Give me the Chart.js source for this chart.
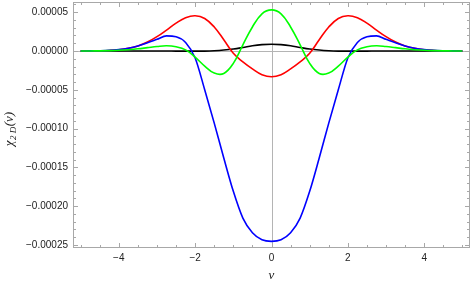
<!DOCTYPE html>
<html>
<head>
<meta charset="utf-8">
<script src="https://cdn.jsdelivr.net/npm/chart.js@4/dist/chart.umd.min.js"></script>
<style>
  html, body { margin: 0; padding: 0; background: #fff; }
  #wrap { width: 472px; height: 284px; }
</style>
</head>
<body>
<div id="wrap"><canvas id="chi" width="472" height="284"></canvas></div>
<script>
// nu values (x)
var nu = [-5, -4.75, -4.5, -4.25, -4, -3.75, -3.5, -3.25, -3, -2.75, -2.5, -2.25, -2, -1.75, -1.5, -1.25, -1, -0.75, -0.5, -0.25,
  0, 0.25, 0.5, 0.75, 1, 1.25, 1.5, 1.75, 2, 2.25, 2.5, 2.75, 3, 3.25, 3.5, 3.75, 4, 4.25, 4.5, 4.75, 5];

// series
var redVals = [0.03e-6, 0.1e-6, 0.28e-6, 0.7e-6, 1.6e-6, 3.4e-6, 6.5e-6, 11.5e-6, 18.5e-6, 27e-6, 36e-6, 43e-6, 45.5e-6, 42e-6, 31e-6, 14.5e-6, -3e-6, -14e-6, -23e-6, -30.5e-6,
  -33.2e-6, -30.5e-6, -23e-6, -14e-6, -3e-6, 14.5e-6, 31e-6, 42e-6, 45.5e-6, 43e-6, 36e-6, 27e-6, 18.5e-6, 11.5e-6, 6.5e-6, 3.4e-6, 1.6e-6, 0.7e-6, 0.28e-6, 0.1e-6, 0.03e-6];
var blueVals = [0.04e-6, 0.12e-6, 0.35e-6, 0.8e-6, 1.8e-6, 3.6e-6, 6.5e-6, 10.5e-6, 15e-6, 19.5e-6, 18.5e-6, 11e-6, -9e-6, -50e-6, -93e-6, -138e-6, -181e-6, -215.5e-6, -234.5e-6, -243.5e-6,
  -245.5e-6, -243.5e-6, -234.5e-6, -215.5e-6, -181e-6, -138e-6, -93e-6, -50e-6, -9e-6, 11e-6, 18.5e-6, 19.5e-6, 15e-6, 10.5e-6, 6.5e-6, 3.6e-6, 1.8e-6, 0.8e-6, 0.35e-6, 0.12e-6, 0.04e-6];
var greenVals = [0.03e-6, 0.08e-6, 0.2e-6, 0.45e-6, 0.9e-6, 1.7e-6, 2.8e-6, 4.3e-6, 5.8e-6, 6.8e-6, 5.5e-6, 1.5e-6, -8e-6, -19.5e-6, -28.5e-6, -29e-6, -16e-6, 8e-6, 31e-6, 48e-6,
  53e-6, 48e-6, 31e-6, 8e-6, -16e-6, -29e-6, -28.5e-6, -19.5e-6, -8e-6, 1.5e-6, 5.5e-6, 6.8e-6, 5.8e-6, 4.3e-6, 2.8e-6, 1.7e-6, 0.9e-6, 0.45e-6, 0.2e-6, 0.08e-6, 0.03e-6];
var blackVals = [0, 0, 0, 0, 0, 0, 0, 0, 0, -0.05e-6, -0.1e-6, -0.15e-6, -0.2e-6, -0.15e-6, 0.3e-6, 1.2e-6, 2.6e-6, 4.6e-6, 6.8e-6, 8.2e-6,
  8.7e-6, 8.2e-6, 6.8e-6, 4.6e-6, 2.6e-6, 1.2e-6, 0.3e-6, -0.15e-6, -0.2e-6, -0.15e-6, -0.1e-6, -0.05e-6, 0, 0, 0, 0, 0, 0, 0, 0, 0];

// ticks
var xTicks = [-4, -2, 0, 2, 4];
var yTicks = [0.00005, 0, -0.00005, -0.0001, -0.00015, -0.0002, -0.00025];

var FRAME = '#a8a8a8';

function pts(vals) {
  return nu.map(function(x, i) { return {x: x, y: vals[i]}; });
}

function fmtY(v) {
  var s = Math.abs(v).toFixed(5);
  return (v < 0 ? '\u2212' : '') + s;
}

// frame, zero axes and inward ticks, Mathematica style
var framePlugin = {
  id: 'frame',
  beforeDatasetsDraw: function(chart) {
    var ctx = chart.ctx, a = chart.chartArea;
    var xs = chart.scales.x, ys = chart.scales.y;
    ctx.save();
    ctx.strokeStyle = '#b4b4b4';
    ctx.lineWidth = 1;
    var y0 = Math.round(ys.getPixelForValue(0)) + 0.5;
    var x0 = Math.round(xs.getPixelForValue(0)) + 0.5;
    ctx.beginPath();
    ctx.moveTo(a.left, y0); ctx.lineTo(a.right, y0);
    ctx.moveTo(x0, a.top); ctx.lineTo(x0, a.bottom);
    ctx.stroke();
    ctx.restore();
  },
  afterDraw: function(chart) {
    var ctx = chart.ctx, a = chart.chartArea;
    var xs = chart.scales.x, ys = chart.scales.y;
    ctx.save();
    ctx.strokeStyle = FRAME;
    ctx.lineWidth = 1;
    ctx.strokeRect(a.left + 0.5, a.top + 0.5, a.right - a.left - 1, a.bottom - a.top - 1);
    ctx.beginPath();
    // x ticks every 0.5, long at labelled ones
    for (var k = -10; k <= 10; k++) {
      var v = k / 2;
      var px = Math.round(xs.getPixelForValue(v)) + 0.5;
      var len = (k % 4 === 0) ? 5 : 3;
      ctx.moveTo(px, a.bottom); ctx.lineTo(px, a.bottom - len);
      ctx.moveTo(px, a.top); ctx.lineTo(px, a.top + len);
    }
    // y ticks every 0.00001
    for (var j = -25; j <= 6; j++) {
      var vy = j * 1e-5;
      var py = Math.round(ys.getPixelForValue(vy)) + 0.5;
      if (py < a.top || py > a.bottom) continue;
      var l2 = (j % 5 === 0) ? 5 : 3;
      ctx.moveTo(a.left, py); ctx.lineTo(a.left + l2, py);
      ctx.moveTo(a.right, py); ctx.lineTo(a.right - l2, py);
    }
    ctx.stroke();

    // axis titles
    ctx.fillStyle = '#222';
    ctx.textBaseline = 'alphabetic';
    ctx.textAlign = 'center';
    ctx.font = 'italic 13px "Liberation Serif"';
    ctx.fillText('\u03bd', (a.left + a.right) / 2, 279);

    // y title: chi with subscript 2 D, rotated
    ctx.translate(13, (a.top + a.bottom) / 2 + 4);
    ctx.rotate(-Math.PI / 2);
    ctx.textAlign = 'left';
    var big = 'italic 13px "Liberation Serif"', small = 'italic 9px "Liberation Serif"';
    ctx.font = big; var w1 = ctx.measureText('\u03c7').width;
    ctx.font = small; var w2 = ctx.measureText('2 D').width;
    ctx.font = big; var w3 = ctx.measureText('(\u03bd)').width;
    var sx = -(w1 + w2 + w3 + 1) / 2;
    ctx.font = big; ctx.fillText('\u03c7', sx, 0);
    ctx.font = small; ctx.fillText('2 D', sx + w1 + 0.5, 3);
    ctx.font = big; ctx.fillText('(\u03bd)', sx + w1 + w2 + 1, 0);
    ctx.restore();
  }
};

function line(label, vals, color, order, mode) {
  return {
    label: label,
    data: pts(vals),
    borderColor: color,
    backgroundColor: color,
    borderWidth: 1.6,
    pointRadius: 0,
    tension: 0.4,
    cubicInterpolationMode: mode,
    fill: false,
    order: order
  };
}

new Chart(document.getElementById('chi'), {
  type: 'line',
  data: {
    datasets: [
      line('black', blackVals, '#000000', 4, 'default'),
      line('red', redVals, '#ff0000', 3, 'default'),
      line('blue', blueVals, '#0000ff', 2, 'monotone'),
      line('green', greenVals, '#00ff00', 1, 'default')
    ]
  },
  options: {
    responsive: false,
    animation: false,
    layout: { padding: { left: 0, right: 2, top: 2, bottom: 0 } },
    plugins: { legend: { display: false }, tooltip: { enabled: false }, title: { display: false } },
    scales: {
      x: {
        type: 'linear',
        min: -5.2,
        max: 5.2,
        grid: { display: false, drawTicks: false },
        border: { display: false },
        afterBuildTicks: function(scale) {
          scale.ticks = xTicks.map(function(v) { return {value: v}; });
        },
        afterFit: function(scale) {
          scale.height = 36;
          scale.paddingLeft = 0; scale.paddingRight = 0;
        },
        ticks: {
          autoSkip: false,
          maxRotation: 0,
          padding: 4,
          color: '#222',
          font: { family: '"Liberation Sans"', size: 10 },
          callback: function(v) { return v < 0 ? '\u2212' + Math.abs(v) : String(v); }
        }
      },
      y: {
        type: 'linear',
        min: -2.541e-4,
        max: 6.32e-5,
        grid: { display: false, drawTicks: false },
        border: { display: false },
        afterBuildTicks: function(scale) {
          scale.ticks = yTicks.map(function(v) { return {value: v}; });
        },
        afterFit: function(scale) {
          scale.width = 73;
          scale.paddingTop = 0; scale.paddingBottom = 0;
        },
        ticks: {
          autoSkip: false,
          padding: 5,
          color: '#222',
          font: { family: '"Liberation Sans"', size: 10 },
          callback: function(v) { return fmtY(v); }
        }
      }
    }
  },
  plugins: [framePlugin]
});
</script>
</body>
</html>
